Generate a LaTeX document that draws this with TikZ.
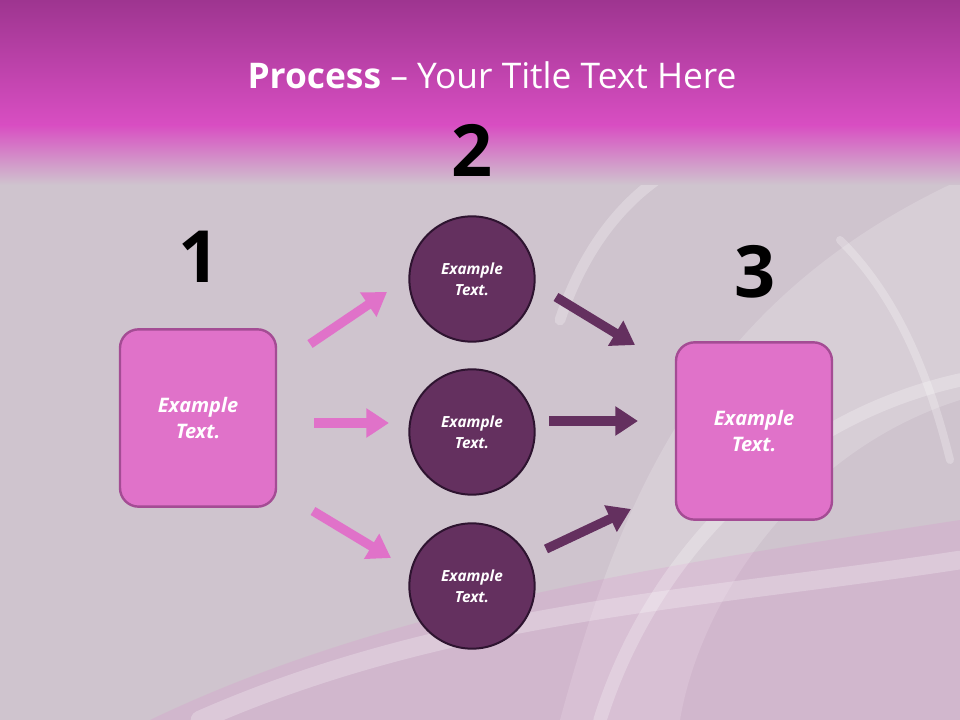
\documentclass[tikz,border=0pt]{standalone}
\usepackage{fontspec}
\setmainfont{Open Sans}
\usetikzlibrary{arrows.meta}
\definecolor{bg}{HTML}{CFC4CE}
\definecolor{magtop}{HTML}{9E3590}
\definecolor{magbot}{HTML}{D84EC2}
\definecolor{pinkbox}{HTML}{E072C9}
\definecolor{pinkline}{HTML}{A44C94}
\definecolor{plum}{HTML}{64305F}
\definecolor{plumline}{HTML}{2E1430}
\tikzset{
  px/.style={x=0.75pt,y=-0.75pt},
  boxnode/.style={draw=pinkline,line width=1.8pt,fill=pinkbox,rounded corners=14pt,minimum width=117pt,minimum height=133pt,text=white,font=\bfseries\itshape\fontsize{15}{19}\selectfont,align=center},
  circnode/.style={circle,draw=plumline,line width=1.5pt,fill=plum,minimum size=94pt,text=white,font=\bfseries\itshape\fontsize{11.5}{16}\selectfont,align=center},
  numnode/.style={font=\bfseries\fontsize{54}{54}\selectfont,text=black},
  pinkarrow/.style={draw=pinkbox,line width=7pt,-{Triangle[length=17pt,width=21pt]}},
  plumarrow/.style={draw=plum,line width=7pt,-{Triangle[length=17pt,width=21pt]}},
  swirl/.style={white,line width=#1,opacity=0.25,line cap=round}
}
\begin{document}
\begin{tikzpicture}[px]
\useasboundingbox (0,0) rectangle (960,720);
\fill[bg] (0,0) rectangle (960,720);
% swirls
\fill[white,opacity=0.18] (560,720) .. controls (620,500) and (700,300) .. (960,180) -- (960,400) .. controls (800,450) and (700,600) .. (680,720) -- cycle;
\fill[pinkbox,opacity=0.15] (150,720) .. controls (400,600) and (700,560) .. (960,520) -- (960,720) -- cycle;
\draw[swirl=14pt] (200,720) .. controls (450,610) and (700,600) .. (960,560);
\draw[swirl=8pt] (560,320) .. controls (600,200) and (680,150) .. (760,140);
\draw[swirl=10pt] (600,720) .. controls (650,560) and (780,420) .. (960,380);
\draw[swirl=6pt] (840,240) .. controls (900,300) and (930,380) .. (950,460);
% top band
\shade[top color=magtop,bottom color=magbot] (0,0) rectangle (960,125);
\shade[top color=magbot,bottom color=bg] (0,125) rectangle (960,185);
\node (title) at (492,75) {\color{white}\fontsize{26.5}{30}\selectfont\textbf{Process} – Your Title Text Here};
% numbers
\node[numnode] (n1) at (199,257) {1};
\node[numnode] (n2) at (472,150) {2};
\node[numnode] (n3) at (755,272) {3};
% boxes
\node[boxnode] (b1) at (198,418) {Example\\Text.};
\node[boxnode] (b3) at (754,431) {Example\\Text.};
% circles
\node[circnode] (c1) at (472,279) {Example\\Text.};
\node[circnode] (c2) at (472,432) {Example\\Text.};
\node[circnode] (c3) at (472,586) {Example\\Text.};
% arrow coordinates
\coordinate (p1s) at (310,344); \coordinate (p1e) at (387,292);
\coordinate (p2s) at (314,423); \coordinate (p2e) at (389,423);
\coordinate (p3s) at (313,511); \coordinate (p3e) at (391,558);
\coordinate (q1s) at (556,297); \coordinate (q1e) at (635,345);
\coordinate (q2s) at (549,421); \coordinate (q2e) at (638,421);
\coordinate (q3s) at (546,549); \coordinate (q3e) at (631,509);
\draw[pinkarrow] (p1s) -- (p1e);
\draw[pinkarrow] (p2s) -- (p2e);
\draw[pinkarrow] (p3s) -- (p3e);
\draw[plumarrow] (q1s) -- (q1e);
\draw[plumarrow] (q2s) -- (q2e);
\draw[plumarrow] (q3s) -- (q3e);
\end{tikzpicture}
\end{document}
